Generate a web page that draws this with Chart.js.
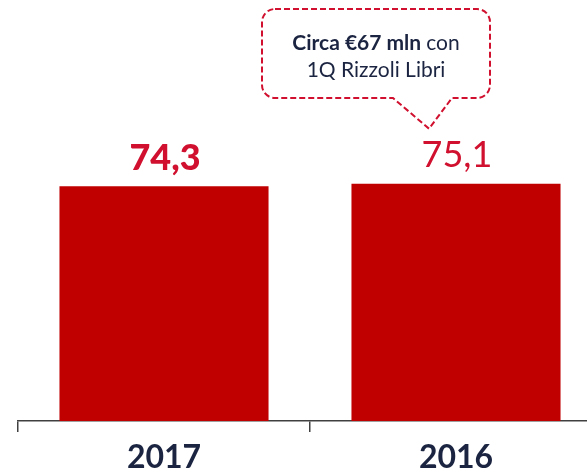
<!DOCTYPE html>
<html>
<head>
<meta charset="utf-8">
<script src="https://cdn.jsdelivr.net/npm/chart.js@4/dist/chart.umd.min.js"></script>
<style>
  html, body { margin: 0; padding: 0; background: #fff; overflow: hidden; }
  #wrap { width: 587px; height: 472px; overflow: hidden; }
</style>
</head>
<body>
<div id="wrap"><canvas id="chart" width="602" height="472"></canvas></div>
<script>
// Ricavi (mln €)
const years = ["2017", "2016"];
const revenues = [74.3, 75.1];
const valueLabels = ["74,3", "75,1"];
const calloutBold = "Circa €67 mln";
const calloutLines = ["con", "1Q Rizzoli Libri"];

const red = "#C00000";
const labelRed = "#D0102E";
const navy = "#1B2440";
const axisGrey = "#404040";

// numbers above the bars
const valueLabelPlugin = {
  id: "valueLabels",
  afterDatasetsDraw(chart) {
    const ctx = chart.ctx;
    const meta = chart.getDatasetMeta(0);
    const weights = ["900", "normal"];
    ctx.save();
    ctx.fillStyle = labelRed;
    ctx.textAlign = "center";
    ctx.textBaseline = "middle";
    meta.data.forEach((bar, i) => {
      ctx.font = weights[i] + " 36px Lato";
      ctx.fillText(valueLabels[i], bar.x + 1, bar.y - 28);
    });
    ctx.restore();
  }
};

// dashed speech bubble over 2016
const calloutPlugin = {
  id: "callout",
  afterDraw(chart) {
    const ctx = chart.ctx;
    const bar = chart.getDatasetMeta(0).data[1];
    const tipX = bar.x - 27, tipY = bar.y - 55;
    const left = tipX - 167, right = tipX + 61, top = 9, bottom = 98, r = 13;
    ctx.save();
    ctx.strokeStyle = "#D0102E";
    ctx.lineWidth = 2;
    ctx.setLineDash([6, 3]);
    ctx.beginPath();
    ctx.moveTo(left + r, top);
    ctx.lineTo(right - r, top);
    ctx.arcTo(right, top, right, top + r, r);
    ctx.lineTo(right, bottom - r);
    ctx.arcTo(right, bottom, right - r, bottom, r);
    ctx.lineTo(tipX + 23, bottom);
    ctx.lineTo(tipX, tipY);
    ctx.lineTo(tipX - 36, bottom);
    ctx.lineTo(left + r, bottom);
    ctx.arcTo(left, bottom, left, bottom - r, r);
    ctx.lineTo(left, top + r);
    ctx.arcTo(left, top, left + r, top, r);
    ctx.closePath();
    ctx.stroke();

    const cx = (left + right) / 2;
    ctx.fillStyle = navy;
    ctx.textBaseline = "middle";
    ctx.textAlign = "left";
    ctx.font = "bold 21px Lato";
    const wBold = ctx.measureText(calloutBold + " ").width;
    ctx.font = "21px Lato";
    const wRest = ctx.measureText(calloutLines[0]).width;
    let x = cx - (wBold + wRest) / 2;
    ctx.font = "bold 21px Lato";
    ctx.fillText(calloutBold + " ", x, 43);
    ctx.font = "21px Lato";
    ctx.fillText(calloutLines[0], x + wBold, 43);
    ctx.textAlign = "center";
    ctx.fillText(calloutLines[1], cx, 70);
    ctx.restore();
  }
};

new Chart(document.getElementById("chart"), {
  type: "bar",
  data: {
    labels: years,
    datasets: [{
      data: revenues,
      backgroundColor: red,
      borderWidth: 0,
      barPercentage: 0.716,
      categoryPercentage: 1
    }]
  },
  options: {
    responsive: false,
    animation: false,
    layout: { padding: { left: 18, right: 0, top: 105, bottom: 0 } },
    plugins: {
      legend: { display: false },
      tooltip: { enabled: false }
    },
    scales: {
      x: {
        grid: {
          drawOnChartArea: false,
          drawTicks: true,
          tickLength: 11,
          color: axisGrey,
          lineWidth: 1.5
        },
        border: { display: true, color: axisGrey, width: 1.5 },
        ticks: {
          color: navy,
          font: { family: "Lato", size: 32, weight: "bold" },
          padding: 6
        },
        afterFit(scale) { scale.height = 51; }
      },
      y: {
        display: false,
        min: 0,
        max: 100
      }
    }
  },
  plugins: [valueLabelPlugin, calloutPlugin]
});
</script>
</body>
</html>
